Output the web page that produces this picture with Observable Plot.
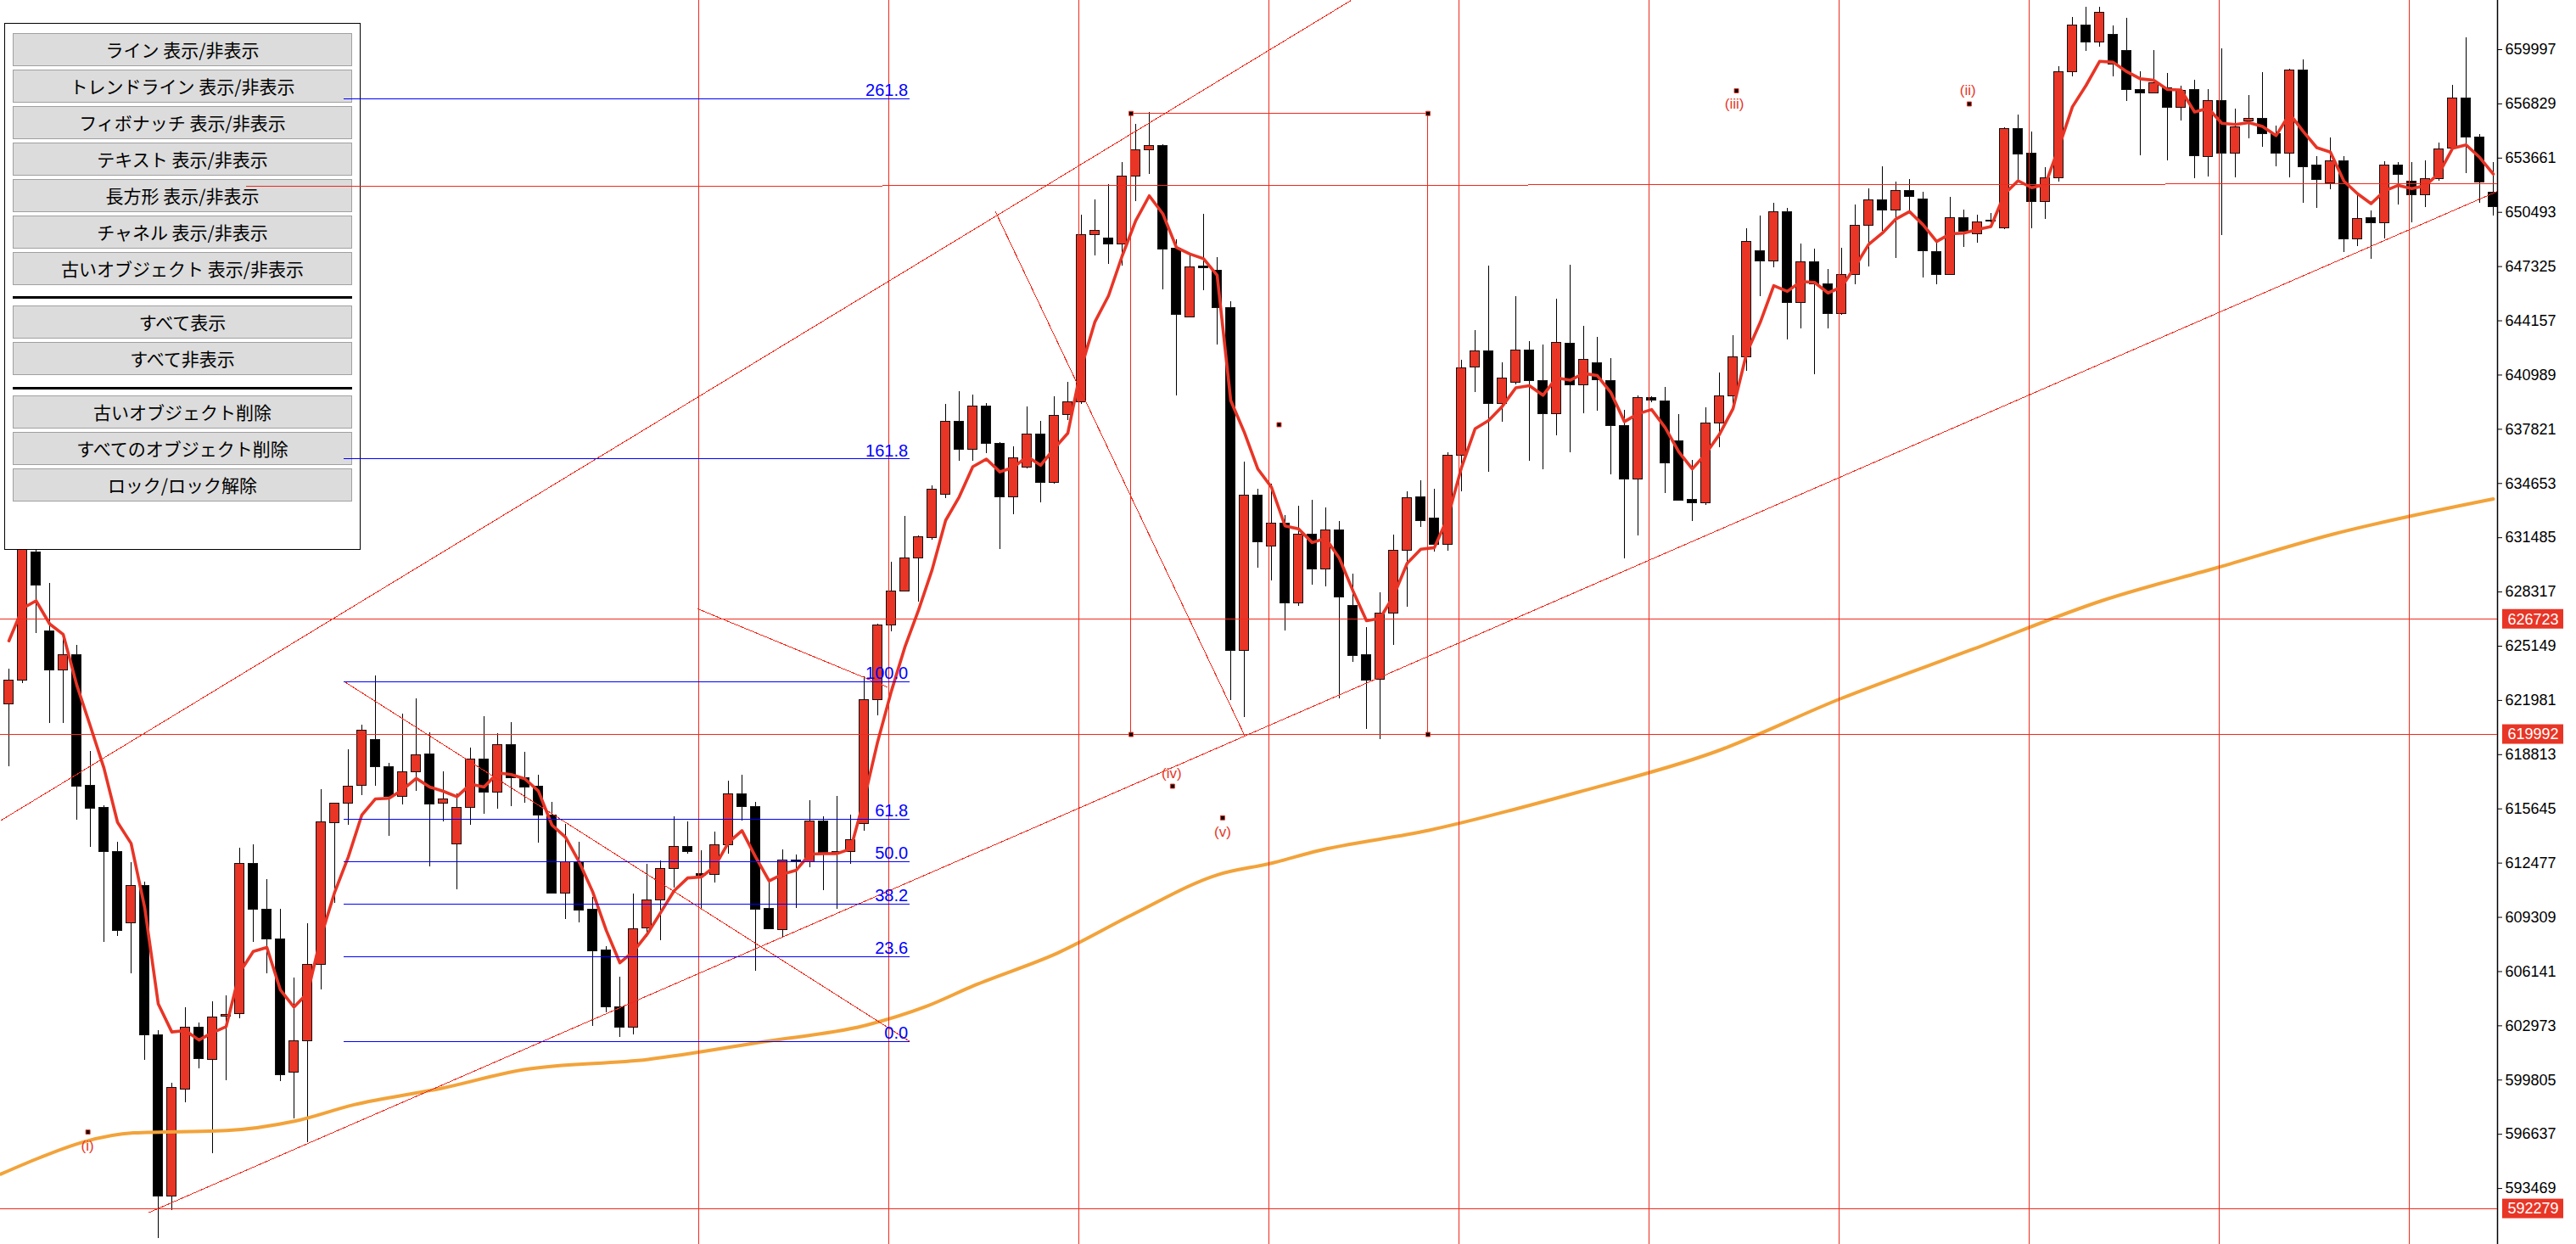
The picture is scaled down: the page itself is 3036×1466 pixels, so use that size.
<!DOCTYPE html>
<html><head><meta charset="utf-8">
<script src="https://cdn.jsdelivr.net/npm/d3@7"></script>
<script src="https://cdn.jsdelivr.net/npm/@observablehq/plot@0.6"></script>
<style>
body{margin:0;background:#fff;}
#wrap{position:relative;width:3036px;height:1466px;overflow:hidden;background:#fff;}
#wrap svg{position:absolute;left:0;top:0;}
#toplayer{pointer-events:none;}
#panel{position:absolute;left:5px;top:27px;width:420px;height:621px;border:1px solid #000;background:#fff;box-sizing:border-box;}
.btn{position:absolute;left:9px;width:400px;height:39px;background:#dcdcdc;border:1px solid #a0a0a0;box-sizing:border-box;font:21px "Noto Sans CJK JP",sans-serif;text-align:center;line-height:36px;color:#000;}
.sep{position:absolute;left:9px;width:400px;height:3px;background:#000;}
</style></head>
<body>
<div id="wrap"><div id="bottomlayer"></div><div id="panel"></div><div id="toplayer"></div></div>
<script>
// ---------- DATA ----------
const opens = [621739,623132,630651,626012,623741,624604,617019,615691,613153,608940,
611170,602411,592993,599273,602853,600959,603487,603646,612435,609748,
607998,600220,602084,606521,614789,615939,616975,619662,618110,616346,
617764,618805,615930,613579,615730,618556,616588,619398,617465,616950,
615264,610724,612558,609738,607354,604037,602872,608652,610313,612113,
613426,611864,611814,613530,616484,615755,609792,608553,612608,612558,
614888,613153,613153,614750,622001,626354,628371,630274,631494,634021,
638285,636619,639147,636977,633839,635608,637507,634697,638642,639400,
649166,648992,648645,652576,654123,654376,648353,644333,647330,647089,
644888,624862,633938,630979,632322,627652,631643,629611,631920,627528,
624624,623197,627082,630736,633873,632585,631083,636257,641437,642375,
639291,640526,642424,640650,638682,642821,640402,641686,640650,638012,
634865,639624,639440,637096,633724,633477,638186,639772,642028,648229,
647644,650509,645215,647594,646305,644546,646841,649721,651213,650608,
651748,651248,648199,646841,650142,649240,649959,649572,655367,653900,
651114,652487,658659,661385,660394,660889,659933,657667,657454,657751,
656591,657618,653736,657008,653934,655818,655967,655075,653934,658807,
653206,652180,653503,648908,650182,649850,653241,652313,651486,652428,
654232,657122,654877,651669];
const highs = [623821,631891,631147,628817,625893,625199,619003,615830,613698,612508,
611368,602694,599620,604032,603150,604380,604736,613361,613550,611517,
609783,605767,608940,616772,615994,619112,620539,623414,618308,621194,
622076,620069,617813,616523,619200,621035,620043,620687,618952,617614,
616042,614739,613708,610472,607616,605817,610675,612409,612623,615186,
614888,613202,614308,617287,617624,616042,611517,613268,612930,616127,
615186,616375,615285,623379,626438,630056,632753,631613,634517,639276,
640020,639832,639326,637046,636798,639128,638285,639733,640566,650331,
651223,652115,653414,655635,656329,654445,648893,647927,650380,647852,
645274,635905,634344,634617,632783,633328,633675,633253,632436,629362,
626240,628248,631643,634171,634815,634318,636451,641834,643609,647357,
641705,645572,642920,642746,645433,647406,643837,643193,641953,638930,
639787,639723,640278,638682,636015,639098,641110,643292,649538,650281,
651025,650727,648645,648348,647158,648397,650945,651867,653176,652284,
652418,651669,648744,651372,650608,650331,650430,655436,656180,655189,
653092,659005,661881,662475,662475,661385,661831,658708,659933,658609,
657865,658212,657667,660032,656512,657305,658644,655521,658857,659402,
653751,654842,653751,651555,650593,653454,653404,653404,653503,654529,
657915,660691,655025,653404];
const lows = [618125,622968,625908,620638,620638,615007,613416,607859,608216,606025,
600959,590559,592200,598500,600463,595487,599784,603372,607859,606025,
599730,597539,596171,605093,610130,614705,616425,616970,614021,615880,
616649,612236,614888,610937,614670,615344,615656,615780,615979,613648,
610700,609187,608989,602952,603735,602297,602446,608146,607928,611041,
613005,609743,611319,613005,614938,606139,608617,608097,609832,612231,
610873,609783,612409,614357,621084,625992,628322,627741,631360,633774,
635955,635955,636416,630800,632833,635534,633527,634617,638315,639252,
647927,647471,647342,651139,652730,645954,639782,644308,645904,642746,
622001,620985,629715,628966,626042,627459,628738,628639,622076,624227,
620306,619696,625213,627409,632069,630661,630711,634171,639971,635321,
638255,640402,635965,635445,637442,636456,638751,638880,635162,630254,
631593,639376,634072,633626,632436,633378,636748,639276,641225,645582,
647258,643034,643703,640992,643703,644462,646286,647307,649404,647813,
650579,646687,646251,646791,648467,648695,649904,649488,652338,649523,
650073,652264,658411,659898,660146,658411,656973,653786,657454,653518,
655848,652462,652576,649156,652512,654807,654311,653156,652512,651010,
650727,651833,648164,648497,647738,648943,650940,649899,650792,652299,
654113,652760,651025,650296];
const closes = [623137,631147,628693,623741,624614,616950,615681,613143,608518,611170,
602411,592993,599323,602853,601043,603438,603616,612435,609748,608023,
600087,602084,606521,614839,615939,616950,620207,618100,616326,617764,
618755,615910,616177,615730,618556,616588,619398,617465,616900,615264,
610724,612558,609693,607304,604037,602872,608603,610313,612113,613426,
613114,611765,613530,616484,615755,609767,608642,612623,612533,614888,
613064,613054,613847,622006,626354,628371,630274,631543,634318,638285,
636619,639147,636977,633839,636114,637507,634697,638632,639400,649166,
649419,648645,652576,654123,654376,648303,644511,647292,647230,644888,
624862,633938,631197,632322,627652,631643,629611,631920,627999,624574,
623142,627033,630736,633794,632461,631083,636257,641388,642375,639291,
640798,642424,640625,638682,642870,640402,641884,640700,637988,634865,
639638,639475,635817,633675,633497,638186,639772,642028,648747,647644,
650509,645215,647594,646305,644546,646841,649721,651213,650594,651748,
651396,648229,646841,650142,649354,649904,650024,655367,653880,651114,
652472,658659,661385,660394,662129,659154,657618,657454,658029,656591,
657583,653786,657008,653949,655471,655967,655055,653900,658792,653156,
652378,653503,648908,650117,649850,653241,652710,651486,652428,654182,
657157,654842,652229,650792];
const emaSeed = 625462; // red 5-period EMA value at first candle
// orange long moving average, read at sample bars
const orangeIdx = [-0.6,2.08,5.42,9.17,16.04,21.04,25.42,31.88,37.92,47.08,55.63,63.13,67.5,71.13,77.28,82.86,89,93.13,96.19,104.6,115.6,125.6,134.9,144.6,154.25,162.75,171.2,183];
const orangeVal = [594307,595209,596171,596716,596855,597400,598362,599324,600414,601009,602050,603002,604082,605336,607235,609510,611786,612494,613154,614393,616624,618953,622076,624951,627826,629759,631692,633749];
const yTicks = [659997,656829,653661,650493,647325,644157,640989,637821,634653,631485,628317,625149,621981,618813,615645,612477,609309,606141,602973,599805,596637,593469];
const priceLines = [626723,619992,592279];
const separators = [50.8,64.8,78.8,92.8,106.8,120.8,134.8,148.8,162.8,176.8];
const fibLevels = [0,23.6,38.2,50,61.8,100,161.8,261.8];
const fib0 = 602050, fib100 = 623087, fibStart = 24.69, fibEnd = 66.375;
const trendLines = [
  {x1:-0.625,y1:614952,x2:98.86,y2:662872,dash:null},
  {x1:10.31,y1:592061,x2:183.31,y2:651719,dash:null},
  {x1:72.64,y1:650579,x2:91.04,y2:619905,dash:null},
  {x1:24.69,y1:fib100,x2:66.375,y2:fib0,dash:null},
  {x1:17.5,y1:651991,x2:183.31,y2:652165,dash:null},
  {x1:50.71,y1:627340,x2:64.69,y2:622770,dash:"3,3"}
];
const boxes = [{x1:82.66,x2:104.53,y1:656269,y2:619992}];
const waveLabels = [
  {x:5.79,y:595967,t:"(i)"},{x:144.3,y:657593,t:"(ii)"},{x:127.1,y:656824,t:"(iii)"},
  {x:85.65,y:617729,t:"(iv)"},{x:89.4,y:614314,t:"(v)"}];
const markers = [
  {x:5.82,y:596765},{x:144.4,y:656824},{x:127.25,y:657593},{x:85.71,y:616970},{x:89.4,y:615122},
  {x:93.56,y:638087},{x:82.66,y:656269},{x:104.53,y:656269},{x:82.66,y:619992},{x:104.53,y:619992}];
const buttons1 = ["ライン 表示/非表示","トレンドライン 表示/非表示","フィボナッチ 表示/非表示","テキスト 表示/非表示","長方形 表示/非表示","チャネル 表示/非表示","古いオブジェクト 表示/非表示"];
const buttons2 = ["すべて表示","すべて非表示"];
const buttons3 = ["古いオブジェクト削除","すべてのオブジェクト削除","ロック/ロック解除"];

// ---------- BUILD ----------
(function () {
const RED = "#e83526", LINE = "#ee2a1c", ORANGE = "#f2a33a", BLUE = "#0000ff";
const rows = opens.map((o, i) => ({i, open:o, high:highs[i], low:lows[i], close:closes[i]}));
const orange = orangeIdx.map((x, k) => ({x, y: orangeVal[k]}));
const xMax = 183.3125;
const ema = (values) => {
  const out = new Array(values.length);
  let e = emaSeed;
  for (let k = 0; k < values.length; k++) {
    e = k === 0 ? emaSeed : e + (values[k] - e) / 3;
    out[k] = e;
  }
  return out;
};
const common = {
  width: 3036, height: 1466,
  marginLeft: 0, marginRight: 93, marginTop: 0, marginBottom: 0,
  x: {domain: [-0.625, xMax], axis: null},
  y: {domain: [590202, 662872], axis: null},
  style: {background: "transparent", overflow: "visible", fontFamily: "Liberation Sans, Arial, sans-serif"}
};

const chartBottom = Plot.plot({
  ...common,
  marks: [
    Plot.ruleX(rows, {x: "i", y1: "low", y2: "high", stroke: "#000", strokeWidth: 1, shapeRendering: "crispEdges"}),
    Plot.rect(rows, {x1: d => d.i - 0.5, x2: d => d.i + 0.5, y1: "open", y2: "close",
      insetLeft: 2.6, insetRight: 2.6, shapeRendering: "crispEdges",
      fill: d => d.close >= d.open ? RED : "#000", stroke: "#111", strokeWidth: 1}),
    Plot.line(orange, {x: "x", y: "y", stroke: ORANGE, strokeWidth: 4, curve: "monotone-x"}),
    Plot.line(rows, Plot.mapY(ema, {x: "i", y: "close", stroke: RED, strokeWidth: 3.6})),
    Plot.ruleX([xMax], {stroke: "#000", strokeWidth: 1.5}),
    Plot.axisY(yTicks, {anchor: "right", tickSize: 5, tickPadding: 4, fontSize: 18, label: null,
      tickFormat: d => String(d), fill: "#000", stroke: "#000"}),
    Plot.rect(priceLines, {x1: () => xMax, x2: () => xMax, y1: d => d, y2: d => d,
      insetLeft: 6, insetRight: -78, insetTop: -11.5, insetBottom: -11.5, fill: RED}),
    Plot.text(priceLines, {x: () => xMax, y: d => d, dx: 42, text: d => String(d),
      fill: "#fff", fontSize: 18})
  ]
});

const chartTop = Plot.plot({
  ...common,
  marks: [
    Plot.ruleX(separators, {stroke: LINE, strokeWidth: 1, shapeRendering: "crispEdges"}),
    Plot.ruleY(priceLines, {stroke: LINE, strokeWidth: 1, shapeRendering: "crispEdges"}),
    Plot.link(trendLines, {x1: "x1", y1: "y1", x2: "x2", y2: "y2", stroke: LINE, strokeWidth: 1,
      strokeDasharray: d => d.dash, clip: true, shapeRendering: "crispEdges"}),
    Plot.rect(boxes, {x1: "x1", x2: "x2", y1: "y1", y2: "y2", fill: "none", stroke: LINE, strokeWidth: 1,
      shapeRendering: "crispEdges"}),
    Plot.ruleY(fibLevels, {y: d => fib0 + d / 100 * (fib100 - fib0), x1: fibStart, x2: fibEnd,
      stroke: BLUE, strokeWidth: 1, shapeRendering: "crispEdges"}),
    Plot.text(fibLevels, {y: d => fib0 + d / 100 * (fib100 - fib0), x: fibEnd - 0.15,
      text: d => d.toFixed(1), textAnchor: "end", lineAnchor: "bottom", dy: -3,
      fill: BLUE, fontSize: 20}),
    Plot.text(waveLabels, {x: "x", y: "y", text: "t", fill: RED, fontSize: 17}),
    Plot.dot(markers, {x: "x", y: "y", symbol: "square", r: 2.8, fill: "#000", stroke: RED, strokeWidth: 1})
  ]
});

document.getElementById("bottomlayer").appendChild(chartBottom);
document.getElementById("toplayer").appendChild(chartTop);

// ---------- PANEL ----------
const panel = document.getElementById("panel");
const addBtn = (label, t) => {
  const b = document.createElement("div");
  b.className = "btn"; b.style.top = t + "px"; b.textContent = label; panel.appendChild(b);
};
const addSep = (t) => {
  const s = document.createElement("div");
  s.className = "sep"; s.style.top = t + "px"; panel.appendChild(s);
};
buttons1.forEach((b, k) => addBtn(b, 11 + 43 * k));
addSep(321);
buttons2.forEach((b, k) => addBtn(b, 332 + 43 * k));
addSep(428);
buttons3.forEach((b, k) => addBtn(b, 438 + 43 * k));
})();
</script>
</body></html>
